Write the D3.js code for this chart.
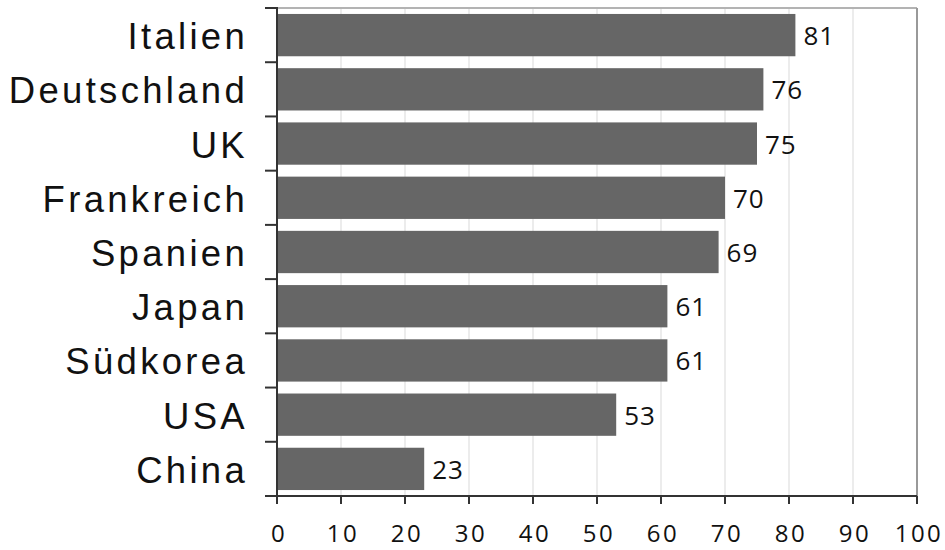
<!DOCTYPE html>
<html><head><meta charset="utf-8">
<script src="https://cdn.jsdelivr.net/npm/d3@7"></script>
<style>body{margin:0;background:#fff}svg{display:block}</style>
</head><body><svg id="c" width="945" height="550"></svg>
<script>
const categories = ["Italien","Deutschland","UK","Frankreich","Spanien","Japan","Südkorea","USA","China"];
const values = [81,76,75,70,69,61,61,53,23];
const xTicks = [0,10,20,30,40,50,60,70,80,90,100];

const svg = d3.select("#c");
const L = 277, R = 917, T = 8, B = 496;
const x = d3.scaleLinear().domain([0,100]).range([L,R]);
const y = d3.scaleBand().domain(categories).range([T,B]).paddingInner(0.22).paddingOuter(0.11);
const yb = d3.scaleBand().domain(categories).range([T,B]);

// gridlines
svg.append("g").selectAll("line").data(xTicks.slice(1,-1)).join("line")
  .attr("x1", d=>x(d)).attr("x2", d=>x(d)).attr("y1", T).attr("y2", B)
  .attr("stroke", "#d9d9d9").attr("stroke-width", 1);

// top & right border
svg.append("line").attr("x1", L).attr("x2", R).attr("y1", T).attr("y2", T).attr("stroke", "#b3b3b3").attr("stroke-width", 2);
svg.append("line").attr("x1", R).attr("x2", R).attr("y1", T).attr("y2", B).attr("stroke", "#999").attr("stroke-width", 2);

// bars
svg.append("g").selectAll("rect").data(values).join("rect")
  .attr("x", x(0)).attr("y", (d,i)=>y(categories[i]))
  .attr("width", d=>x(d)-x(0)).attr("height", y.bandwidth())
  .attr("fill", "#666666");

// value labels
svg.append("g").selectAll("text").data(values).join("text")
  .attr("x", d=>x(d)+8).attr("y", (d,i)=>y(categories[i])+y.bandwidth()/2+10)
  .attr("font-family", "'Open Sans', sans-serif").attr("font-size", 26)
  .attr("letter-spacing", 1).attr("fill", "#111")
  .text(d=>d);

// left axis with ticks at band boundaries
const bounds = categories.map(c=>yb(c)).concat([B]);
svg.append("g").selectAll("line").data(bounds).join("line")
  .attr("x1", L-12).attr("x2", L).attr("y1", d=>d).attr("y2", d=>d)
  .attr("stroke", "#333").attr("stroke-width", 2);
svg.append("line").attr("x1", L).attr("x2", L).attr("y1", T-1).attr("y2", B+1).attr("stroke", "#333").attr("stroke-width", 2);

// bottom axis
svg.append("line").attr("x1", L-12).attr("x2", R).attr("y1", B).attr("y2", B).attr("stroke", "#333").attr("stroke-width", 2);
svg.append("g").selectAll("line").data(xTicks).join("line")
  .attr("x1", d=>x(d)).attr("x2", d=>x(d)).attr("y1", B).attr("y2", B+8)
  .attr("stroke", "#333").attr("stroke-width", 2);
svg.append("g").selectAll("text").data(xTicks).join("text")
  .attr("x", d=>x(d)+2).attr("y", 542)
  .attr("text-anchor", "middle")
  .attr("font-family", "'Open Sans', sans-serif").attr("font-size", 24)
  .attr("letter-spacing", 2.5).attr("fill", "#111")
  .text(d=>d);

// category labels
svg.append("g").selectAll("text").data(categories).join("text")
  .attr("x", 248).attr("y", d=>yb(d)+yb.bandwidth()/2+14)
  .attr("text-anchor", "end")
  .attr("font-family", "'Liberation Sans', Arial, sans-serif").attr("font-size", 36.5)
  .attr("letter-spacing", 3.3).attr("fill", "#111")
  .text(d=>d);
</script></body></html>
